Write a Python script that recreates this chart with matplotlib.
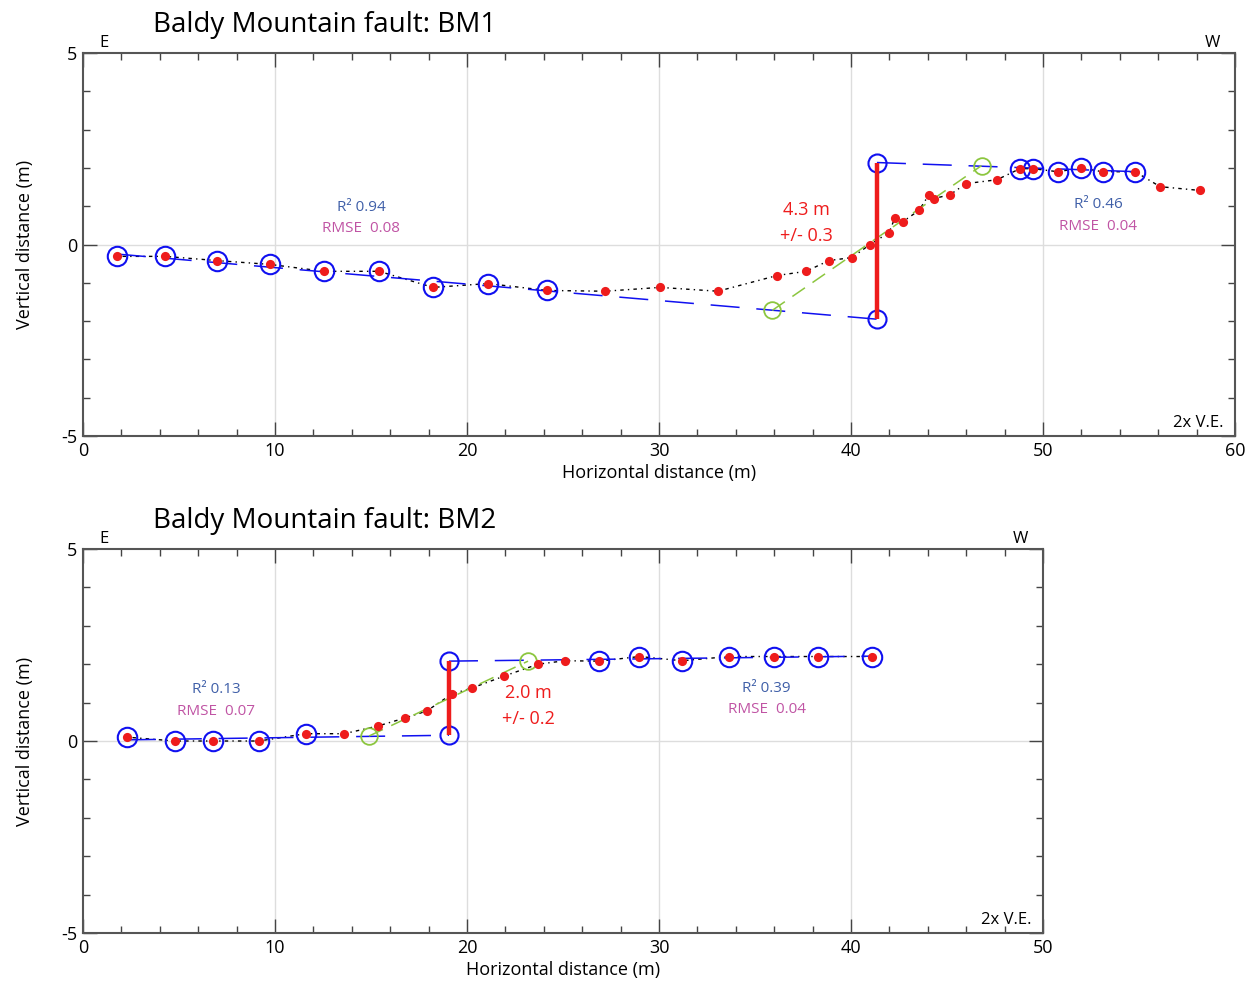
import matplotlib
matplotlib.use("Agg")
import matplotlib.pyplot as plt
import numpy as np

plt.rcParams['font.family'] = ['Open Sans', 'DejaVu Sans']
plt.rcParams['axes.unicode_minus'] = False

# ---------------- data: BM1 ----------------
bm1_x = [1.77, 4.27, 6.98, 9.74, 12.55, 15.42, 18.23, 21.09, 24.17, 27.19, 30.05,
         33.07, 36.15, 37.66, 38.85, 40.05, 40.99, 41.98, 42.29, 42.71, 43.54, 44.06,
         44.32, 45.16, 45.99, 47.6, 48.8, 49.48, 50.78, 51.98, 53.1, 54.8, 56.1, 58.2]
bm1_y = [-0.31, -0.31, -0.42, -0.52, -0.70, -0.70, -1.12, -1.02, -1.20, -1.22, -1.12,
         -1.22, -0.81, -0.70, -0.42, -0.34, 0.0, 0.31, 0.70, 0.60, 0.89, 1.30,
         1.20, 1.30, 1.59, 1.69, 1.98, 1.98, 1.90, 2.0, 1.90, 1.90, 1.51, 1.41]
bm1_circled = [0, 1, 2, 3, 4, 5, 6, 7, 8, 26, 27, 28, 29, 30, 31]
bm1_fit_lo_x = [1.77, 41.35]
bm1_fit_lo_y = [-0.25, -1.95]
bm1_fit_hi_x = [41.35, 55.5]
bm1_fit_hi_y = [2.14, 1.89]
bm1_scarp_x = [35.9, 46.8]
bm1_scarp_y = [-1.72, 2.06]
bm1_offset_x = 41.35
bm1_offset_text = ["4.3 m", "+/- 0.3"]
bm1_stats_lo = ["R² 0.94", "RMSE  0.08"]
bm1_stats_hi = ["R² 0.46", "RMSE  0.04"]

# ---------------- data: BM2 ----------------
bm2_x = [2.29, 4.79, 6.77, 9.17, 11.6, 13.6, 15.36, 16.77, 17.9, 19.2, 20.26,
         21.93, 23.7, 25.1, 26.9, 28.98, 31.2, 33.65, 36.0, 38.3, 41.1]
bm2_y = [0.10, 0.0, 0.0, 0.0, 0.19, 0.19, 0.39, 0.60, 0.78, 1.22, 1.38,
         1.69, 2.0, 2.09, 2.08, 2.20, 2.09, 2.20, 2.20, 2.20, 2.20]
bm2_circled = [0, 1, 2, 3, 4, 14, 15, 16, 17, 18, 19, 20]
bm2_fit_lo_x = [2.29, 19.06]
bm2_fit_lo_y = [0.03, 0.15]
bm2_fit_hi_x = [19.06, 41.1]
bm2_fit_hi_y = [2.08, 2.21]
bm2_scarp_x = [14.9, 23.18]
bm2_scarp_y = [0.13, 2.08]
bm2_offset_x = 19.06
bm2_offset_text = ["2.0 m", "+/- 0.2"]
bm2_stats_lo = ["R² 0.13", "RMSE  0.07"]
bm2_stats_hi = ["R² 0.39", "RMSE  0.04"]

RED = '#EE1C1C'
BLUE = '#1010F0'
GREEN = '#8CC63F'
STAT_BLUE = '#3F5FA8'
STAT_MAG = '#C054A4'

W, H = 1260, 983
fig = plt.figure(figsize=(W / 100, H / 100), dpi=100)


def panel(rect, xmax, title, px, py, circled, lo_x, lo_y, hi_x, hi_y,
          sc_x, sc_y, off_x, off_text, off_pos, st_lo, st_lo_pos, st_hi, st_hi_pos,
          ve_x):
    ax = fig.add_axes(rect)
    ax.set_xlim(0, xmax)
    ax.set_ylim(-5, 5)
    # grid
    for gx in range(10, xmax, 10):
        ax.axvline(gx, color='#DDDDDD', lw=1.0, zorder=0)
    ax.axhline(0, color='#DDDDDD', lw=1.0, zorder=0)

    # profile dotted line
    ax.plot(px, py, color='black', lw=1.0, linestyle=(0, (1, 3, 2.5, 3)), zorder=2)
    # fit lines
    ax.plot(lo_x, lo_y, color=BLUE, lw=1.1, dashes=(19, 11), zorder=3)
    ax.plot(hi_x, hi_y, color=BLUE, lw=1.1, dashes=(19, 11), zorder=3)
    ax.plot(sc_x, sc_y, color=GREEN, lw=1.1, dashes=(10, 6), zorder=3)
    # circles
    cx = [px[i] for i in circled]
    cy = [py[i] for i in circled]
    ax.plot(cx, cy, 'o', ms=14, mfc='none', mec=BLUE, mew=1.5, zorder=4)
    ax.plot([lo_x[-1], hi_x[0]], [lo_y[-1], hi_y[0]], 'o', ms=13, mfc='none',
            mec=BLUE, mew=1.5, zorder=4)
    ax.plot(sc_x, sc_y, 'o', ms=12, mfc='none', mec=GREEN, mew=1.3, zorder=4)
    # red points
    ax.plot(px, py, 'o', ms=6.6, color=RED, mec='none', zorder=5)
    # vertical offset
    ax.plot([off_x, off_x], [lo_y[-1], hi_y[0]], color=RED, lw=3.2, zorder=6,
            solid_capstyle='butt')
    ax.text(off_pos[0], off_pos[1], off_text[0], color=RED, fontsize=13,
            ha='center', va='center')
    ax.text(off_pos[0], off_pos[1] - 0.68, off_text[1], color=RED, fontsize=13,
            ha='center', va='center')
    ax.text(st_lo_pos[0], st_lo_pos[1], st_lo[0], color=STAT_BLUE, fontsize=11,
            ha='center', va='center')
    ax.text(st_lo_pos[0], st_lo_pos[1] - 0.55, st_lo[1], color=STAT_MAG, fontsize=11,
            ha='center', va='center')
    ax.text(st_hi_pos[0], st_hi_pos[1], st_hi[0], color=STAT_BLUE, fontsize=11,
            ha='center', va='center')
    ax.text(st_hi_pos[0], st_hi_pos[1] - 0.57, st_hi[1], color=STAT_MAG, fontsize=11,
            ha='center', va='center')

    ax.text(ve_x, -4.67, "2x V.E.", fontsize=12, ha='right', va='center')
    ax.text(1.1, 5.05, "E", fontsize=12, ha='center', va='bottom')
    ax.text(title[1], 5.05, "W", fontsize=12, ha='center', va='bottom')
    ax.text(3.65, 5.73, title[0], fontsize=20, ha='left', va='center')

    # ticks
    ax.set_xticks(range(0, xmax + 1, 10))
    ax.set_xticks(range(0, xmax + 1, 2), minor=True)
    ax.set_yticks([-5, 0, 5])
    ax.set_yticks(range(-5, 6), minor=True)
    ax.tick_params(which='both', direction='in', top=True, right=True,
                   color='#444444', labelsize=13, width=1.0)
    ax.tick_params(which='major', length=10)
    ax.tick_params(which='minor', length=5)
    ax.tick_params(axis='x', which='major', pad=4)
    ax.tick_params(axis='y', which='major', pad=4)
    for s in ax.spines.values():
        s.set_color('#555555')
        s.set_linewidth(1.5)
    ax.set_xlabel("Horizontal distance (m)", fontsize=13, labelpad=3)
    ax.set_ylabel("Vertical distance (m)", fontsize=13, labelpad=20)
    return ax


ax1 = panel([83 / W, 1 - 436 / H, (1235 - 83) / W, (436 - 53) / H], 60,
            ("Baldy Mountain fault: BM1", 58.8), bm1_x, bm1_y, bm1_circled,
            bm1_fit_lo_x, bm1_fit_lo_y, bm1_fit_hi_x, bm1_fit_hi_y,
            bm1_scarp_x, bm1_scarp_y, bm1_offset_x, bm1_offset_text, (37.7, 0.89),
            bm1_stats_lo, (14.48, 0.96), bm1_stats_hi, (52.86, 1.04), 59.4)

ax2 = panel([83 / W, 1 - 933 / H, (1043 - 83) / W, (933 - 549) / H], 50,
            ("Baldy Mountain fault: BM2", 48.8), bm2_x, bm2_y, bm2_circled,
            bm2_fit_lo_x, bm2_fit_lo_y, bm2_fit_hi_x, bm2_fit_hi_y,
            bm2_scarp_x, bm2_scarp_y, bm2_offset_x, bm2_offset_text, (23.2, 1.25),
            bm2_stats_lo, (6.93, 1.33), bm2_stats_hi, (35.6, 1.38), 49.4)

fig.savefig("out.png", dpi=100)
